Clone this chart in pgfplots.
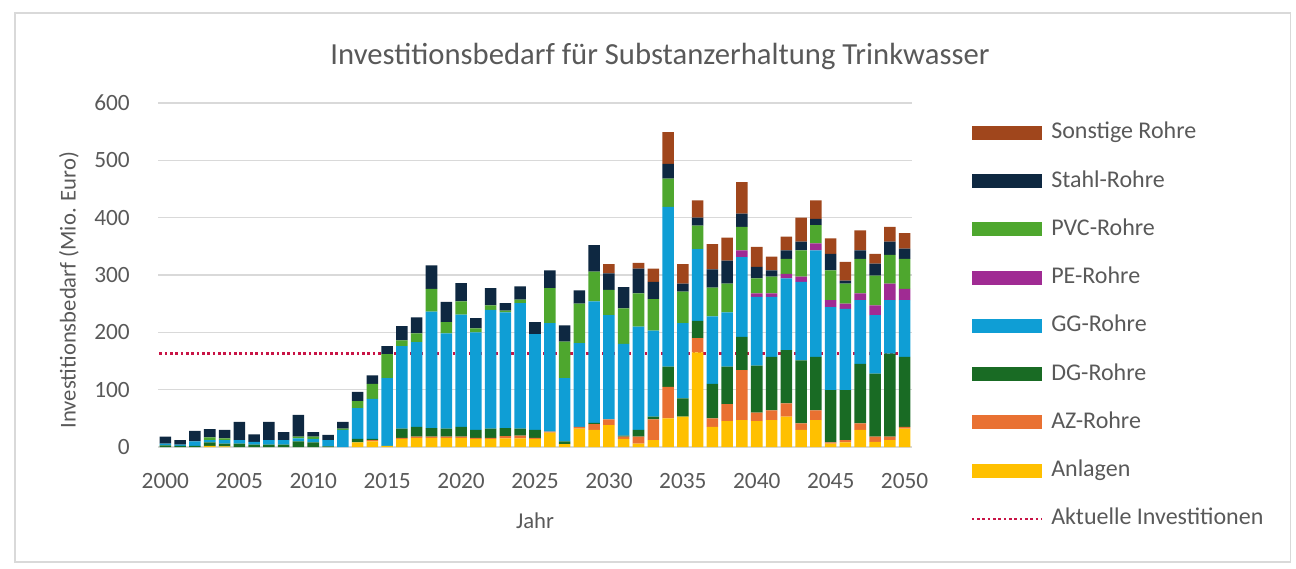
\documentclass[border=0pt]{standalone}
\usepackage{pgfplots}
\pgfplotsset{compat=1.18}
\usepackage{pgfplotstable}
\usepackage{fontspec}
\setmainfont{Carlito}

\definecolor{txt}{HTML}{595959}
\definecolor{gridgray}{HTML}{D9D9D9}
\definecolor{framegray}{HTML}{D9D9D9}
\definecolor{anl}{HTML}{FFC000}
\definecolor{az}{HTML}{E97132}
\definecolor{dg}{HTML}{196B24}
\definecolor{gg}{HTML}{0F9ED5}
\definecolor{pe}{HTML}{A02B93}
\definecolor{pvc}{HTML}{4EA72E}
\definecolor{stahl}{HTML}{0E2841}
\definecolor{sonst}{HTML}{A0461C}
\definecolor{actred}{RGB}{200,20,70}

% Investitionsbedarf je Jahr und Rohrmaterial (Mio. Euro)
\pgfplotstableread{
year Anl AZ DG GG PE PVC Stahl Sonst
2000 0 0 3 3 0 0 12 0
2001 0 0 2 2 0 0 8 0
2002 0 0 2 8 0 0 18 0
2003 2 0 6 4 0 5 14 0
2004 1 0 5 6 0 3 15 0
2005 0 0 6 6 0 0 32 0
2006 0 0 4 5 0 0 13 0
2007 0 0 4 8 0 0 32 0
2008 0 0 4 8 0 0 14 0
2009 0 0 10 5 0 3 38 0
2010 0 0 8 6 0 4 8 0
2011 0 0 1 11 0 0 9 0
2012 0 0 0 30 0 2 12 0
2013 8 0 6 54 0 12 16 0
2014 10 2 2 70 0 26 15 0
2015 2 0 0 118 0 42 14 0
2016 14 2 16 144 0 10 25 0
2017 16 2 17 148 0 15 28 0
2018 16 2 15 203 0 40 41 0
2019 16 2 14 166 0 20 35 0
2020 16 2 17 196 0 23 32 0
2021 14 2 14 170 0 7 18 0
2022 14 2 16 207 0 8 30 0
2023 15 4 14 202 0 3 13 0
2024 15 5 12 219 0 6 23 0
2025 14 2 14 167 0 0 21 0
2026 25 2 0 189 0 61 31 0
2027 5 0 5 110 0 64 28 0
2028 32 3 0 146 0 69 23 0
2029 30 10 2 212 0 52 46 0
2030 38 10 0 182 0 44 29 16
2031 14 4 2 160 0 62 37 0
2032 6 12 12 180 0 58 43 10
2033 12 36 5 150 0 55 30 23
2034 50 55 35 279 0 49 26 55
2035 53 0 32 131 0 55 14 34
2036 165 25 30 125 0 41 14 30
2037 35 15 60 118 0 50 32 44
2038 45 30 65 95 0 50 40 40
2039 47 87 58 139 12 41 23 55
2040 45 15 82 120 6 26 20 35
2041 47 17 93 105 6 29 11 24
2042 53 23 93 125 8 26 15 24
2043 30 11 110 137 9 46 15 42
2044 47 17 93 186 12 32 11 32
2045 6 2 91 145 12 52 29 27
2046 8 4 87 142 9 35 5 33
2047 30 11 104 111 12 60 15 35
2048 9 9 110 102 17 52 21 17
2049 12 6 145 93 29 50 23 26
2050 32 3 122 99 20 52 18 27
}\invdata

\pgfplotsset{
  swatch/.style={legend image code/.code={\fill[##1,draw=none] (0pt,-5.25pt) rectangle (52.5pt,5.25pt);}},
  rohr/.style={fill=#1, draw=none, swatch},
}

\begin{document}
\begin{tikzpicture}[x=1pt,y=1pt]
\path[use as bounding box] (0,0) rectangle (972,426);
\draw[line width=0.8pt, framegray] (11.25,4.5) rectangle (968,416.25);
\node[text=txt, font=\fontsize{23}{27}\selectfont] at (495,384) 
  {Investitionsbedarf für Substanzerhaltung Trinkwasser};
\begin{axis}[
  at={(118.5pt,90.75pt)}, anchor=south west,
  scale only axis, width=565.5pt, height=258pt,
  xmin=1999.5, xmax=2050.5, ymin=0, ymax=600,
  ybar stacked, bar width=0.78,
  xtick={2000,2005,...,2050}, ytick={0,100,...,600},
  ymajorgrids, grid style={gridgray, line width=0.8pt},
  axis line style={draw=none}, major tick length=0pt,
  /pgf/number format/assume math mode=true,
  /pgf/number format/1000 sep={},
  tick label style={font=\fontsize{17.5}{20}\selectfont, text=txt},
  xticklabel style={anchor=center, inner sep=0pt, yshift=-25.5pt},
  yticklabel style={anchor=east, inner sep=0pt, xshift=-21pt},
  xlabel={Jahr}, ylabel={Investitionsbedarf (Mio. Euro)},
  label style={font=\fontsize{17}{20}\selectfont, text=txt},
  xlabel style={at={(axis description cs:0.5,-0.215)}, anchor=center},
  ylabel style={at={(axis description cs:-0.118,0.456)}, anchor=center},
  legend style={at={(axis description cs:1.077,0.945)}, anchor=north west,
    draw=none, fill=none, inner sep=0pt, text=txt,
    font=\fontsize{18}{21}\selectfont, row sep=20.2pt,
    nodes={inner sep=0pt, text height=12.5pt, text depth=3.5pt},
    /tikz/every odd column/.style={column sep=6pt}},
  legend cell align=left, legend reversed,
  legend entries={Aktuelle Investitionen, Anlagen, AZ-Rohre, DG-Rohre, GG-Rohre,
    PE-Rohre, PVC-Rohre, Stahl-Rohre, Sonstige Rohre},
]
\addlegendimage{legend image code/.code={\draw[actred, line width=2.2pt, dash pattern=on 2pt off 2pt] (0pt,0pt) -- (52.5pt,0pt);}}
\addplot[rohr=anl]   table[x=year, y=Anl]   {\invdata};
\addplot[rohr=az]    table[x=year, y=AZ]    {\invdata};
\addplot[rohr=dg]    table[x=year, y=DG]    {\invdata};
\addplot[rohr=gg]    table[x=year, y=GG]    {\invdata};
\addplot[rohr=pe]    table[x=year, y=PE]    {\invdata};
\addplot[rohr=pvc]   table[x=year, y=PVC]   {\invdata};
\addplot[rohr=stahl] table[x=year, y=Stahl] {\invdata};
\addplot[rohr=sonst] table[x=year, y=Sonst] {\invdata};
% aktuelles Investitionsniveau
\addplot[forget plot, stack plots=false, sharp plot, actred, line width=2.2pt,
  dash pattern=on 2pt off 2pt] coordinates {(1999.6,163) (2050.4,163)};
\end{axis}
\end{tikzpicture}
\end{document}
